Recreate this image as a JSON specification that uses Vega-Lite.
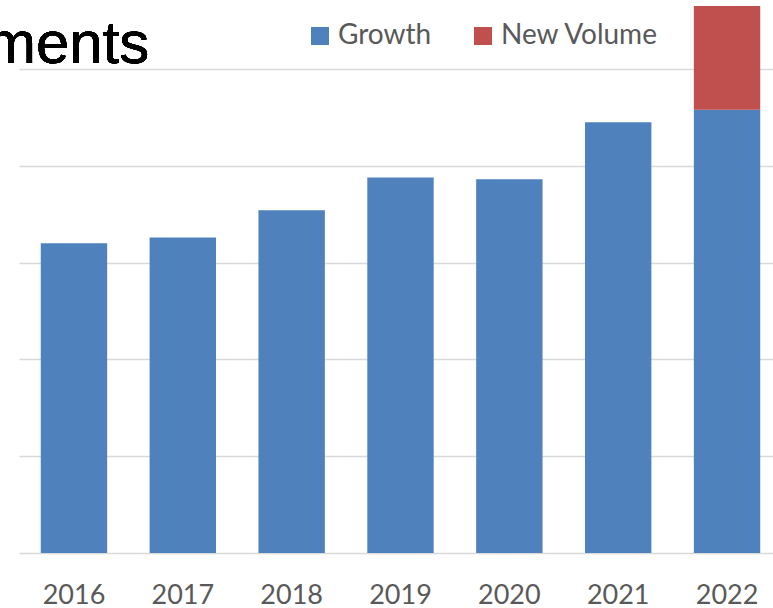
{
  "$schema": "https://vega.github.io/schema/vega-lite/v6.json",
  "width": 763,
  "height": 553,
  "autosize": {"type": "none"},
  "padding": {"left": 19, "top": 0, "right": 0, "bottom": 55},
  "background": "white",
  "data": {
    "values": [
      {"year": "2016", "series": "Growth", "value": 3.20},
      {"year": "2017", "series": "Growth", "value": 3.26},
      {"year": "2018", "series": "Growth", "value": 3.54},
      {"year": "2019", "series": "Growth", "value": 3.88},
      {"year": "2020", "series": "Growth", "value": 3.86},
      {"year": "2021", "series": "Growth", "value": 4.45},
      {"year": "2022", "series": "Growth", "value": 4.58},
      {"year": "2022", "series": "New Volume", "value": 1.07}
    ]
  },
  "layer": [
    {
      "mark": {"type": "bar"},
      "encoding": {
        "x": {
          "field": "year",
          "type": "ordinal",
          "scale": {"paddingInner": 0.39, "paddingOuter": 0.2},
          "axis": {
            "title": null,
            "labelAngle": 0,
            "domain": false,
            "ticks": false,
            "labelFont": "Lato",
            "labelFontSize": 27,
            "labelColor": "#595959",
            "labelBaseline": "alphabetic",
            "labelPadding": 50
          }
        },
        "y": {
          "field": "value",
          "type": "quantitative",
          "stack": "zero",
          "scale": {"domain": [0, 5.713], "nice": false},
          "axis": {
            "title": null,
            "labels": false,
            "ticks": false,
            "domain": false,
            "grid": true,
            "values": [0, 1, 2, 3, 4, 5],
            "gridColor": "#d9d9d9",
            "gridWidth": 1.5
          }
        },
        "color": {
          "field": "series",
          "type": "nominal",
          "scale": {"domain": ["Growth", "New Volume"], "range": ["#4F81BD", "#C0504D"]},
          "legend": {
            "title": null,
            "orient": "none",
            "legendX": 287,
            "legendY": 22,
            "direction": "horizontal",
            "symbolType": "square",
            "symbolSize": 324,
            "symbolStrokeWidth": 0,
            "labelFont": "Lato",
            "labelFontSize": 28,
            "labelColor": "#595959",
            "labelOffset": 4,
            "columnPadding": 37
          }
        },
        "order": {"field": "series", "sort": "ascending"}
      }
    },
    {
      "mark": {
        "type": "text",
        "text": "ments",
        "font": "Liberation Sans",
        "fontSize": 60,
        "color": "#000000",
        "align": "left",
        "baseline": "alphabetic",
        "dx": -88
      },
      "encoding": {
        "x": {"datum": "2016", "type": "ordinal"},
        "y": {"datum": 5.062, "type": "quantitative"}
      }
    }
  ],
  "config": {"view": {"stroke": null}}
}
